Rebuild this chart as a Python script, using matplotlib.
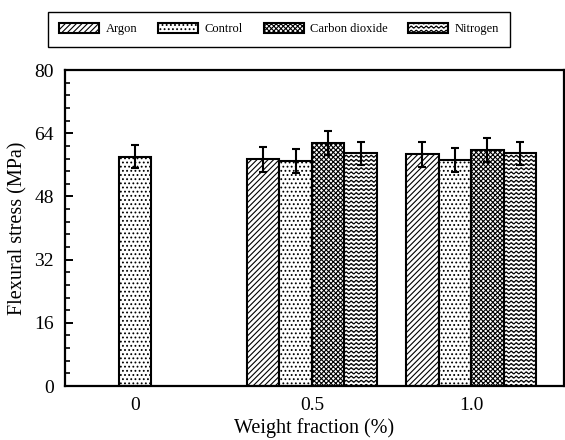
import warnings

import matplotlib
matplotlib.use('Agg')
import matplotlib.pyplot as plt
import matplotlib.hatch as mhatch
from matplotlib.path import Path
from matplotlib.ticker import MultipleLocator
import numpy as np

warnings.filterwarnings('ignore')

# data
weight_labels = ['0', '0.5', '1.0']
gases = ['Argon', 'Control', 'Carbon dioxide', 'Nitrogen']

argon = [np.nan, 57.4, 58.7]
argon_err = [np.nan, 3.2, 3.2]
control = [58.1, 57.0, 57.3]
control_err = [3.0, 3.0, 3.0]
co2 = [np.nan, 61.6, 59.7]
co2_err = [np.nan, 3.0, 3.1]
nitrogen = [np.nan, 58.9, 58.9]
nitrogen_err = [np.nan, 3.0, 3.0]


# wavy horizontal hatch ('~'), matplotlib has none built in
class WaveHatch(mhatch.HatchPatternBase):
    periods = 20
    pts = 8

    def __init__(self, hatch, density):
        self.num_rows = int(hatch.count('~') * density)
        self.n = self.periods * self.pts + 1
        self.num_vertices = self.num_rows * self.n

    def set_vertices_and_codes(self, vertices, codes):
        steps, stepsize = np.linspace(0.0, 1.0, self.num_rows, False, retstep=True)
        steps += stepsize / 2.
        xs = np.linspace(0.0, 1.0, self.n)
        wave = 0.25 * stepsize * np.sin(2 * np.pi * self.periods * xs)
        for i, s in enumerate(steps):
            vertices[i * self.n:(i + 1) * self.n, 0] = xs
            vertices[i * self.n:(i + 1) * self.n, 1] = s + wave
            codes[i * self.n] = Path.MOVETO
            codes[i * self.n + 1:(i + 1) * self.n] = Path.LINETO


mhatch._hatch_types.append(WaveHatch)

plt.rcParams['font.family'] = ['Liberation Serif', 'DejaVu Serif']
plt.rcParams['hatch.linewidth'] = 0.8

group_pos = np.array([0.0, 1.0, 1.9])
w = 0.184

fig = plt.figure(figsize=(5.65, 4.4), dpi=100)
ax = fig.add_axes([0.115, 0.1227, 0.883, 0.718])

bar_kw = dict(width=w, color='white', edgecolor='black', linewidth=1.5,
              capsize=3, error_kw=dict(elinewidth=1.5, capthick=1.5, ecolor='black'))

series = [(argon, argon_err, '//////'), (control, control_err, '....'),
          (co2, co2_err, 'xxxxxxx'), (nitrogen, nitrogen_err, '~~~~')]
offsets = [-1.5, -0.5, 0.5, 1.5]

handles = []
for (vals, errs, hatch), off, name in zip(series, offsets, gases):
    pos = group_pos[1:] + off * w
    b = ax.bar(pos, vals[1:], yerr=errs[1:], hatch=hatch, label=name, **bar_kw)
    handles.append(b)

# the 0 % sample only has the control bar, centred on its tick
ax.bar(group_pos[0], control[0], yerr=control_err[0], hatch='....', **bar_kw)

ax.set_xlim(-0.395, 2.424)
ax.set_ylim(0, 80)
ax.set_xticks(group_pos)
ax.set_xticklabels(weight_labels)
ax.yaxis.set_major_locator(MultipleLocator(16))
ax.yaxis.set_minor_locator(MultipleLocator(3.2))
ax.tick_params(axis='y', which='both', direction='in', right=False, labelsize=14, pad=8)
ax.tick_params(axis='y', which='major', length=6, width=1.4)
ax.tick_params(axis='y', which='minor', length=3.5, width=1.2)
ax.tick_params(axis='x', length=0, labelsize=14, pad=8)
for s in ax.spines.values():
    s.set_linewidth(1.6)

ax.set_ylabel('Flexural stress (MPa)', fontsize=14.5, labelpad=5)
ax.set_xlabel('Weight fraction (%)', fontsize=14.5, labelpad=3)

fig.legend(handles, gases, loc='center', ncol=4, mode='expand',
           bbox_to_anchor=(0.085, 0.898, 0.818, 0.072), bbox_transform=fig.transFigure,
           fancybox=False, edgecolor='black', framealpha=1, borderaxespad=0,
           fontsize=9, handlelength=3.2, handleheight=0.9, handletextpad=0.5,
           columnspacing=1.0, borderpad=0.9)

fig.savefig('out.png', dpi=100)
